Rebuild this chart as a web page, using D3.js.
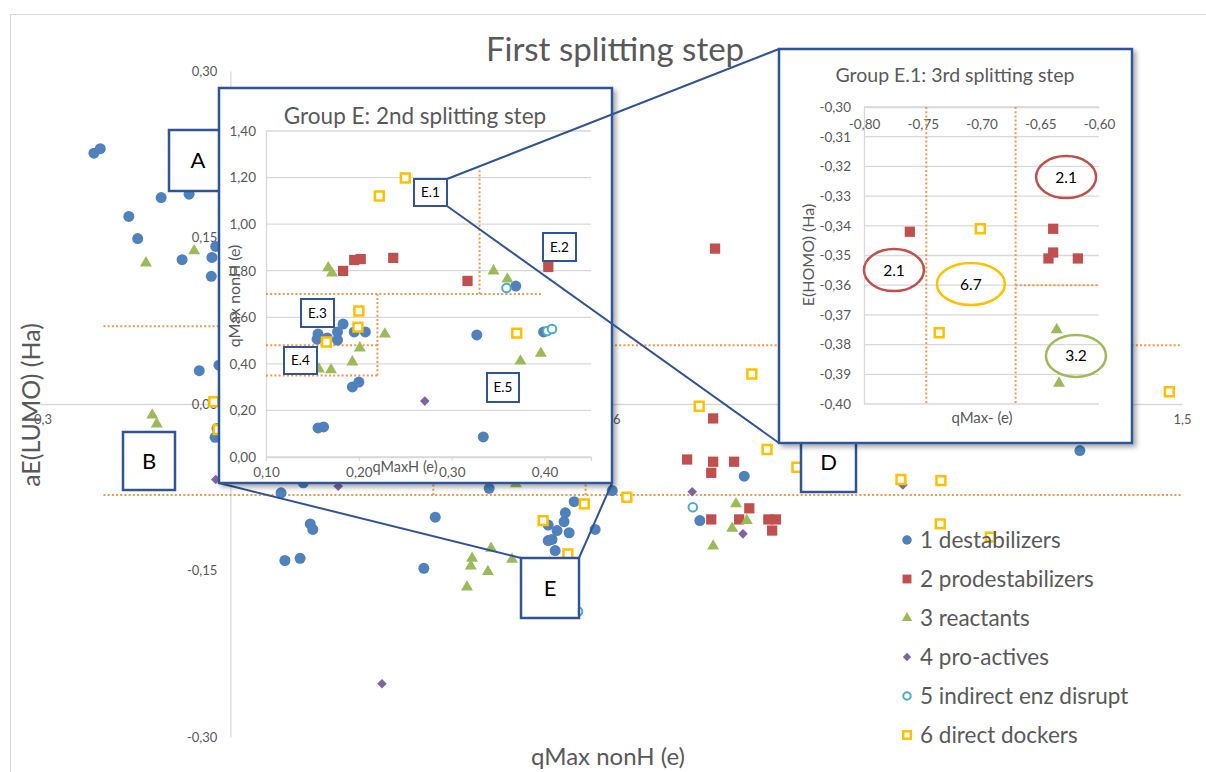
<!DOCTYPE html>
<html><head><meta charset="utf-8">
<script src="https://cdn.jsdelivr.net/npm/d3@7"></script>
<style>body{margin:0;background:#fff} text{font-family:Lato,"Open Sans",sans-serif}</style>
</head><body><svg id="c" width="1206" height="772"></svg>
<script>
// ---------- DATA ----------
const seriesNames = ["1 destabilizers","2 prodestabilizers","3 reactants","4 pro-actives","5 indirect enz disrupt","6 direct dockers"];
const seriesColors = ["#4F81BD","#C0504D","#9BBB59","#8064A2","#4BACC6","#FFC000"];
const seriesShapes = ["circle","square","triangle","diamond","hcircle","hsquare"];

const chartTitle = "First splitting step";
const mainXTicks = [-0.3,0,0.3,0.6,0.9,1.2,1.5];
const mainYTicks = [-0.3,-0.15,0,0.15,0.3];

// main chart: [qMax nonH, aE(LUMO)]
const mainDestabilizers = [[-0.215,0.226],[-0.205,0.230],[-0.109,0.186],[-0.065,0.189],[-0.160,0.169],[-0.146,0.149],[-0.076,0.130],[-0.029,0.132],[-0.030,0.115],[-0.023,0.142],[-0.049,0.030],[-0.018,0.035],[-0.021,-0.022],[-0.024,-0.030],[0.080,-0.080],[0.115,-0.071],[0.126,-0.108],[0.130,-0.113],[0.086,-0.141],[0.110,-0.139],[0.323,-0.102],[0.305,-0.148],[0.408,-0.076],[0.539,-0.147],[0.542,-0.088],[0.528,-0.098],[0.526,-0.106],[0.501,-0.109],[0.515,-0.114],[0.534,-0.116],[0.507,-0.122],[0.501,-0.123],[0.512,-0.132],[0.575,-0.113],[0.602,-0.078],[0.810,-0.065],[0.740,-0.105],[1.339,-0.042]];
const mainProdestabilizers = [[0.764,0.140],[0.761,-0.013],[0.720,-0.050],[0.761,-0.052],[0.758,-0.062],[0.794,-0.052],[0.758,-0.104],[0.818,-0.094],[0.802,-0.104],[0.848,-0.104],[0.860,-0.104],[0.854,-0.114]];
const mainReactants = [[-0.133,0.127],[-0.057,0.138],[-0.123,-0.010],[-0.116,-0.018],[0.450,-0.072],[0.381,-0.139],[0.379,-0.146],[0.411,-0.130],[0.406,-0.151],[0.373,-0.165],[0.444,-0.140],[0.468,-0.154],[0.524,-0.178],[0.797,-0.090],[0.814,-0.105],[0.791,-0.112],[0.761,-0.128]];
const mainProActives = [[-0.023,-0.068],[0.170,-0.074],[0.239,-0.252],[0.728,-0.079],[0.808,-0.117],[1.060,-0.073]];
const mainIndirect = [[0.543,-0.160],[0.548,-0.187],[0.729,-0.093]];
const mainDockers = [[-0.026,0.002],[-0.019,-0.023],[0.558,-0.090],[0.493,-0.105],[0.532,-0.135],[0.625,-0.084],[0.822,0.027],[0.739,-0.002],[0.846,-0.041],[0.893,-0.057],[1.057,-0.068],[1.120,-0.069],[1.119,-0.108],[1.198,-0.120],[1.480,0.011]];

// splitting thresholds, main chart
const mainSplitH = [[-0.2,0.32,0.070],[0.56,1.5,0.053],[-0.2,1.5,-0.082]]; // [x0,x1,y]
const mainSplitV = [[0.32,-0.082,0.070],[0.56,-0.082,0.053]];            // [x,y0,y1]

// inset 1: Group E [qMaxH, qMax nonH]
const insetETitle = "Group E: 2nd splitting step";
const insetEXTicks = [0.1,0.2,0.3,0.4];
const insetEYTicks = [0,0.2,0.4,0.6,0.8,1.0,1.2,1.4];
const eDestabilizers = [[0.369,0.734],[0.183,0.571],[0.156,0.528],[0.155,0.506],[0.166,0.511],[0.177,0.537],[0.177,0.502],[0.195,0.537],[0.207,0.537],[0.327,0.524],[0.399,0.537],[0.193,0.301],[0.200,0.322],[0.156,0.125],[0.162,0.129],[0.334,0.086]];
const eProdestabilizers = [[0.183,0.799],[0.195,0.846],[0.202,0.850],[0.237,0.855],[0.317,0.756],[0.404,0.816]];
const eReactants = [[0.167,0.812],[0.171,0.790],[0.345,0.799],[0.360,0.764],[0.228,0.528],[0.201,0.468],[0.193,0.408],[0.157,0.378],[0.170,0.374],[0.374,0.412],[0.396,0.445]];
const eProActives = [[0.271,0.240]];
const eIndirect = [[0.359,0.726],[0.403,0.541],[0.408,0.550]];
const eDockers = [[0.250,1.198],[0.222,1.121],[0.200,0.627],[0.199,0.558],[0.165,0.494],[0.370,0.532]];
const eSplitH = [[0.1,0.397,0.70],[0.1,0.22,0.48],[0.1,0.22,0.35]];
const eSplitV = [[0.33,0.70,1.24],[0.22,0.35,0.70]];

// inset 2: Group E.1 [qMax-, E(HOMO)]
const insetE1Title = "Group E.1: 3rd splitting step";
const insetE1XTicks = [-0.80,-0.75,-0.70,-0.65,-0.60];
const insetE1YTicks = [-0.30,-0.31,-0.32,-0.33,-0.34,-0.35,-0.36,-0.37,-0.38,-0.39,-0.40];
const e1Prodestabilizers = [[-0.761,-0.342],[-0.639,-0.341],[-0.639,-0.349],[-0.643,-0.351],[-0.618,-0.351]];
const e1Reactants = [[-0.636,-0.375],[-0.634,-0.393]];
const e1Dockers = [[-0.701,-0.341],[-0.736,-0.376]];
const e1SplitV = [[-0.747,-0.30,-0.40],[-0.671,-0.30,-0.40]];
const e1SplitH = [[-0.671,-0.60,-0.36]];
const e1Groups = [["2.1",-0.628,-0.3236,1],["2.1",-0.7745,-0.3549,1],["6.7",-0.709,-0.3596,5],["3.2",-0.6196,-0.3838,2]];

// ---------- DRAWING ----------
const svg = d3.select("#c");
const loc = d3.formatLocale({decimal:",",thousands:".",grouping:[3],currency:["",""],minus:"-"});
const f2 = loc.format(".2f"), f1 = loc.format(".1f");
const GRAY="#595959", GRID="#D9D9D9", BOX="#2F5597", ORANGE="#F79646";

const defs = svg.append("defs");
const flt = defs.append("filter").attr("id","sh").attr("x","-5%").attr("y","-5%").attr("width","115%").attr("height","115%");
flt.append("feDropShadow").attr("dx",3).attr("dy",3).attr("stdDeviation",2.5).attr("flood-color","#000").attr("flood-opacity",0.35);

const inset1Rect = [219,88,612,483], inset2Rect = [779,49,1132,443];

function marker(g, data, si, sx, sy, scale=1){
  const shape = seriesShapes[si], col = seriesColors[si];
  let type, size, fill=col, stroke="none", sw=0, rot=0;
  if(shape==="circle"){type=d3.symbolCircle;size=95;}
  else if(shape==="square"){type=d3.symbolSquare;size=105;}
  else if(shape==="triangle"){type=d3.symbolTriangle;size=62;}
  else if(shape==="diamond"){type=d3.symbolSquare;size=46;rot=45;}
  else if(shape==="hcircle"){type=d3.symbolCircle;size=58;fill="#fff";stroke=col;sw=2;}
  else {type=d3.symbolSquare;size=78;fill="#fff";stroke=col;sw=2.5;}
  g.selectAll(null).data(data).enter().append("path")
    .attr("d", d3.symbol().type(type).size(size*scale))
    .attr("transform", d=>`translate(${sx(d[0])},${sy(d[1])}) rotate(${rot})`)
    .attr("fill",fill).attr("stroke",stroke).attr("stroke-width",sw);
}
function dotLine(g,x1,y1,x2,y2){
  g.append("line").attr("x1",x1).attr("y1",y1).attr("x2",x2).attr("y2",y2)
   .attr("stroke",ORANGE).attr("stroke-width",2).attr("stroke-dasharray","2,2.2");
}
function labelBox(g,x,y,w,h,t,fs,sw=2.5){
  g.append("rect").attr("x",x).attr("y",y).attr("width",w).attr("height",h)
   .attr("fill","#fff").attr("stroke",BOX).attr("stroke-width",sw);
  g.append("text").attr("x",x+w/2).attr("y",y+h/2).attr("dy","0.36em").attr("text-anchor","middle")
   .attr("font-size",fs).attr("fill","#000").text(t);
}
function covered(x,y){
  return [inset1Rect,inset2Rect].some(r=>x-8>r[0]&&x+8<r[2]&&y>r[1]&&y<r[3]);
}

// outer chart border
svg.append("rect").attr("x",10.5).attr("y",14.5).attr("width",1240).attr("height",800).attr("fill","#fff").attr("stroke",GRID);

// ---- main chart ----
const mx = d3.scaleLinear().domain([-0.3,1.5]).range([40,1182]);
const my = d3.scaleLinear().domain([-0.3,0.3]).range([737,71]);
const main = svg.append("g");
main.append("text").attr("x",615).attr("y",61).attr("text-anchor","middle").attr("font-size",33).attr("fill",GRAY).text(chartTitle);

const xa = main.append("g").attr("transform",`translate(0,${my(0)})`)
  .call(d3.axisBottom(mx).tickValues(mainXTicks).tickFormat(f1).tickSize(0).tickPadding(11));
xa.selectAll(".tick").filter(d=>covered(mx(d),my(0)+18)).remove();
const ya = main.append("g").attr("transform",`translate(${mx(0)},0)`)
  .call(d3.axisLeft(my).tickValues(mainYTicks).tickFormat(f2).tickSize(0).tickPadding(13));
[xa,ya].forEach(a=>{a.select(".domain").attr("stroke",GRID).attr("stroke-width",1.3);
  a.selectAll("text").attr("fill",GRAY).attr("font-size",13).attr("font-family","Lato");});

main.append("text").attr("transform","translate(40,405) rotate(-90)").attr("text-anchor","middle")
  .attr("font-size",25).attr("fill",GRAY).text("aE(LUMO) (Ha)");
main.append("text").attr("x",608).attr("y",765).attr("text-anchor","middle")
  .attr("font-size",24).attr("fill",GRAY).text("qMax nonH (e)");

mainSplitH.forEach(d=>dotLine(main,mx(d[0]),my(d[2]),mx(d[1]),my(d[2])));
mainSplitV.forEach(d=>dotLine(main,mx(d[0]),my(d[1]),mx(d[0]),my(d[2])));

[mainDestabilizers,mainProdestabilizers,mainReactants,mainProActives,mainIndirect,mainDockers]
  .forEach((s,i)=>marker(main,s,i,mx,my));

// region boxes
labelBox(main,169,130,58,61,"A",22);
labelBox(main,123,432,52,58,"B",22);
labelBox(main,801,432,55,60,"D",22);
labelBox(main,521,558,58,60,"E",22);
// connectors E -> inset 1
main.append("line").attr("x1",521).attr("y1",558).attr("x2",219).attr("y2",483).attr("stroke",BOX).attr("stroke-width",2);
main.append("line").attr("x1",579).attr("y1",558).attr("x2",612).attr("y2",483).attr("stroke",BOX).attr("stroke-width",2);

// legend
const lg = svg.append("g");
seriesNames.forEach((n,i)=>{
  const y = 540 + i*39;
  marker(lg,[[0,0]],i,()=>907,()=>y,0.75);
  lg.append("text").attr("x",920).attr("y",y).attr("dy","0.35em").attr("font-size",22.5).attr("fill",GRAY).text(n);
});

// ---- inset 1 ----
const i1 = svg.append("g");
i1.append("rect").attr("x",219).attr("y",88).attr("width",393).attr("height",395)
  .attr("fill","#fff").attr("stroke",BOX).attr("stroke-width",2.5).attr("filter","url(#sh)");
const ex = d3.scaleLinear().domain([0.1,0.45]).range([266,591]);
const ey = d3.scaleLinear().domain([0,1.4]).range([457,131]);
i1.append("text").attr("x",415).attr("y",124).attr("text-anchor","middle").attr("font-size",22.5).attr("fill",GRAY).text(insetETitle);
i1.append("g").selectAll("line").data(insetEYTicks).enter().append("line")
  .attr("x1",ex(0.1)).attr("x2",ex(0.45)).attr("y1",d=>ey(d)).attr("y2",d=>ey(d)).attr("stroke",GRID).attr("stroke-width",1.3);
const e_ya = i1.append("g").attr("transform",`translate(${ex(0.1)},0)`)
  .call(d3.axisLeft(ey).tickValues(insetEYTicks).tickFormat(f2).tickSize(0).tickPadding(10));
const e_xa = i1.append("g").attr("transform",`translate(0,${ey(0)})`)
  .call(d3.axisBottom(ex).tickValues(insetEXTicks).tickFormat(f2).tickSize(4).tickPadding(6));
[e_ya,e_xa].forEach(a=>{a.select(".domain").attr("stroke",GRID).attr("stroke-width",1.3);
  a.selectAll(".tick line").attr("stroke",GRID);
  a.selectAll("text").attr("fill",GRAY).attr("font-size",13.5).attr("font-family","Lato");});
i1.append("text").attr("x",405).attr("y",472).attr("text-anchor","middle").attr("font-size",14.5).attr("fill",GRAY).text("qMaxH (e)");
i1.append("text").attr("transform","translate(240,296) rotate(-90)").attr("text-anchor","middle").attr("font-size",16).attr("fill",GRAY).text("qMax nonH (e)");
eSplitH.forEach(d=>dotLine(i1,ex(d[0]),ey(d[2]),ex(d[1]),ey(d[2])));
eSplitV.forEach(d=>dotLine(i1,ex(d[0]),ey(d[1]),ex(d[0]),ey(d[2])));
[eDestabilizers,eProdestabilizers,eReactants,eProActives,eIndirect,eDockers]
  .forEach((s,i)=>marker(i1,s,i,ex,ey));
labelBox(i1,414,179,33,27,"E.1",13.5,2);
labelBox(i1,543,233,33,28,"E.2",13.5,2);
labelBox(i1,301,299,33,28,"E.3",13.5,2);
labelBox(i1,284,347,33,27,"E.4",13.5,2);
labelBox(i1,487,373,32,29,"E.5",13.5,2);

// connectors E.1 -> inset 2
svg.append("line").attr("x1",447).attr("y1",179).attr("x2",779).attr("y2",49).attr("stroke",BOX).attr("stroke-width",2);
svg.append("line").attr("x1",447).attr("y1",206).attr("x2",779).attr("y2",443).attr("stroke",BOX).attr("stroke-width",2);

// ---- inset 2 ----
const i2 = svg.append("g");
i2.append("rect").attr("x",779).attr("y",49).attr("width",353).attr("height",394)
  .attr("fill","#fff").attr("stroke",BOX).attr("stroke-width",2.5).attr("filter","url(#sh)");
const fx = d3.scaleLinear().domain([-0.8,-0.6]).range([864,1099]);
const fy = d3.scaleLinear().domain([-0.40,-0.30]).range([404,107]);
i2.append("text").attr("x",955).attr("y",82).attr("text-anchor","middle").attr("font-size",19.5).attr("fill",GRAY).text(insetE1Title);
i2.append("g").selectAll("line").data(insetE1YTicks).enter().append("line")
  .attr("x1",fx(-0.8)).attr("x2",fx(-0.6)).attr("y1",d=>fy(d)).attr("y2",d=>fy(d)).attr("stroke",GRID).attr("stroke-width",1.3);
const f_ya = i2.append("g").attr("transform",`translate(${fx(-0.8)},0)`)
  .call(d3.axisLeft(fy).tickValues(insetE1YTicks).tickFormat(f2).tickSize(0).tickPadding(13));
const f_xa = i2.append("g").attr("transform",`translate(0,${fy(-0.30)})`)
  .call(d3.axisBottom(fx).tickValues(insetE1XTicks).tickFormat(f2).tickSize(0).tickPadding(12));
[f_ya,f_xa].forEach(a=>{a.select(".domain").attr("stroke",GRID).attr("stroke-width",1.3);
  a.selectAll("text").attr("fill",GRAY).attr("font-size",13.5).attr("font-family","Lato");});
i2.append("text").attr("x",982).attr("y",423).attr("text-anchor","middle").attr("font-size",15).attr("fill",GRAY).text("qMax- (e)");
i2.append("text").attr("transform","translate(814,255) rotate(-90)").attr("text-anchor","middle").attr("font-size",16).attr("fill",GRAY).text("E(HOMO) (Ha)");
e1SplitV.forEach(d=>dotLine(i2,fx(d[0]),fy(d[1]),fx(d[0]),fy(d[2])));
e1SplitH.forEach(d=>dotLine(i2,fx(d[0]),fy(d[2]),fx(d[1]),fy(d[2])));
marker(i2,e1Prodestabilizers,1,fx,fy);
marker(i2,e1Reactants,2,fx,fy);
marker(i2,e1Dockers,5,fx,fy);
e1Groups.forEach(d=>{
  const w = d[3]===5?34:30;
  i2.append("ellipse").attr("cx",fx(d[1])).attr("cy",fy(d[2])).attr("rx",w).attr("ry",21)
    .attr("fill","none").attr("stroke",seriesColors[d[3]]).attr("stroke-width",2.5);
  i2.append("text").attr("x",fx(d[1])).attr("y",fy(d[2])).attr("dy","0.36em").attr("text-anchor","middle")
    .attr("font-size",15.5).attr("fill","#000").text(d[0]);
});
</script></body></html>
